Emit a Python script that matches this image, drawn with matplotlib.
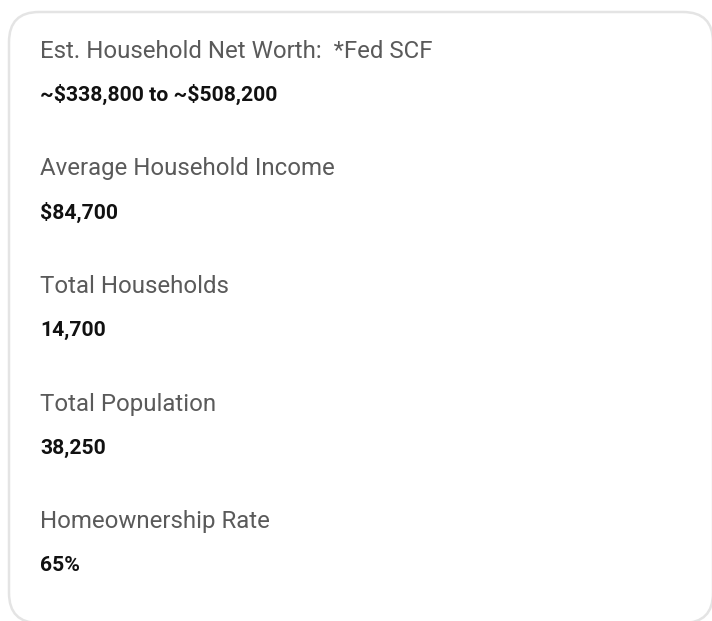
#!/usr/bin/env python3
"""household_card.py"""

import matplotlib.pyplot as plt
from matplotlib.patches import FancyBboxPatch

plt.rcParams["text.parse_math"] = False

labels = [
    "Est. Household Net Worth:  *Fed SCF",
    "Average Household Income",
    "Total Households",
    "Total Population",
    "Homeownership Rate",
]
values = [
    "~$338,800 to ~$508,200",
    "$84,700",
    "14,700",
    "38,250",
    "65%",
]


def plot(ax: plt.Axes) -> None:
    """Draw the stats card"""
    ax.set_xlim(0, 712)
    ax.set_ylim(621, 0)
    ax.axis("off")

    # card outline with rounded corners
    card = FancyBboxPatch(
        (9, 12), 704, 611,
        boxstyle="round,pad=0,rounding_size=30",
        facecolor="white", edgecolor="#e4e4e4", linewidth=1.8,
    )
    ax.add_patch(card)

    for i, (lab, val) in enumerate(zip(labels, values)):
        y0 = 58 + i * 117.5
        ax.text(40, y0, lab, fontsize=17.3, color="#5a5a5a",
                family="Roboto", va="baseline")
        ax.text(40, y0 + 43, val, fontsize=15.2, color="#111111",
                family="Roboto", fontweight="bold", va="baseline")


def main() -> None:
    fig = plt.figure(figsize=(7.12, 6.21), dpi=100)
    ax = fig.add_axes([0, 0, 1, 1])
    plot(ax)
    fig.savefig("out.png", dpi=100)


if __name__ == "__main__":
    main()
